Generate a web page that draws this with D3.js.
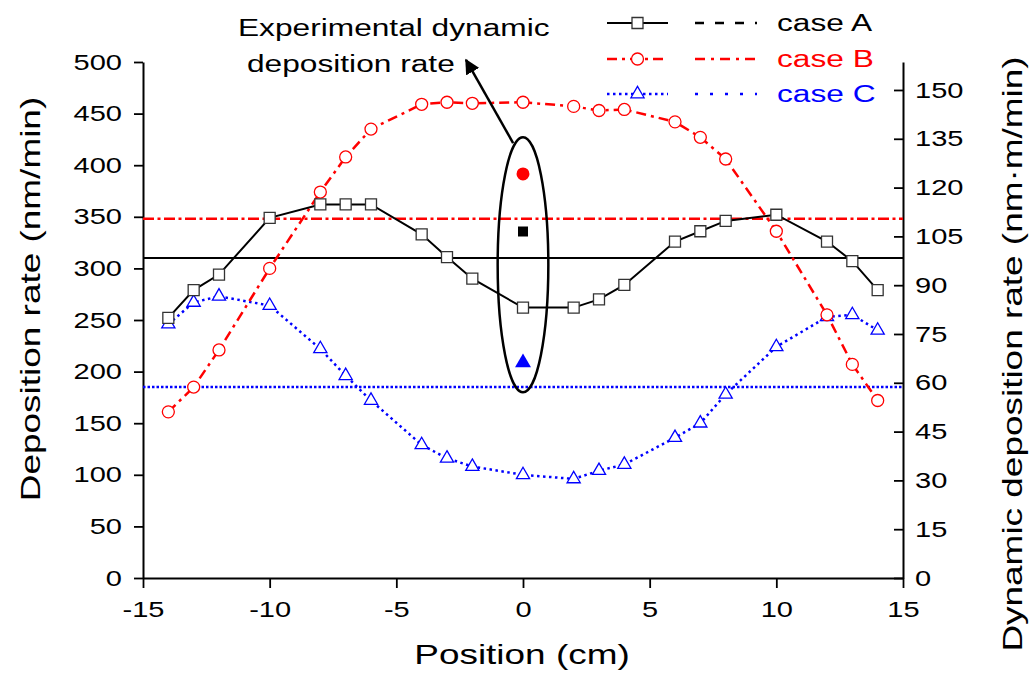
<!DOCTYPE html>
<html><head><meta charset="utf-8">
<script src="https://cdn.jsdelivr.net/npm/d3@7"></script>
<style>
html,body{margin:0;padding:0;background:#fff;}
text{font-family:"Liberation Sans",Arial,sans-serif;}
</style></head>
<body><svg id="c" width="1031" height="677"></svg>
<script>
// ---- data ----
const positions = [-14,-13,-12,-10,-8,-7,-6,-4,-3,-2,0,2,3,4,6,7,8,10,12,13,14];
const caseA = [252,279,294,349,362,362,362,333,311,290,262,262,270,284,326,336,346,352,326,307,279];
const caseB = [161,185,221,300,374,408,435,459,461,460,461,457,453,454,442,427,406,336,255,207,172];
const caseC = [246,267,273,264,222,196,172,129,116,108,100,96,104,110,136,150,178,224,253,255,240];
const averages = {A:310, B:348, C:185};              // nm/min, horizontal lines
const expPosition = 0;
const experimental = {A:106.5, B:124.2, C:66.2};      // nm·m/min (right axis)
const xTicks = [-15,-10,-5,0,5,10,15];
const yLeftTicks = [0,50,100,150,200,250,300,350,400,450,500];
const yRightTicks = [0,15,30,45,60,75,90,105,120,135,150];
const legendLabels = ["case A","case B","case C"];
const annotationLines = ["Experimental dynamic","deposition rate"];
const ellipseRange = {x0:-1, x1:1, y0:180, y1:427};
const arrowFrom = [-0.39, 421.5], arrowTo = [-2.25, 502];

// ---- setup ----
const svg = d3.select("#c");
const K = 1.32; // horizontal glyph stretch of the reference typeface
const x = d3.scaleLinear([-15,15],[143,903]);
const yL = d3.scaleLinear([0,500],[578,62]);
const yR = d3.scaleLinear([0,158.6],[578,62]);
const RED="#ff0000", BLUE="#0000ff";

function stretch(sel){ sel.each(function(){ const t=d3.select(this); const xx=+t.attr("x")||0; t.attr("x",0).attr("transform",`translate(${xx},0) scale(${K},1)`);}); }

// axes
const gL = svg.append("g").attr("transform",`translate(${x(-15)},0)`);
gL.call(d3.axisLeft(yL).tickValues(d3.range(25,500,50)).tickSize(5).tickSizeOuter(0).tickFormat(""));
gL.call(d3.axisLeft(yL).tickValues(yLeftTicks).tickSize(9).tickSizeOuter(0).tickPadding(12).tickFormat(d=>String(d)));
const gR = svg.append("g").attr("transform",`translate(${x(15)},0)`);
gR.call(d3.axisRight(yR).tickValues(d3.range(7.5,158,15)).tickSize(-5).tickSizeOuter(0).tickFormat(""));
gR.call(d3.axisRight(yR).tickValues(yRightTicks).tickSize(-9).tickSizeOuter(0).tickPadding(12).tickFormat(d=>String(d)));
const gB = svg.append("g").attr("transform",`translate(0,${yL(0)})`);
gB.call(d3.axisBottom(x).tickValues(d3.range(-12.5,15,5)).tickSize(6).tickSizeOuter(0).tickFormat(""));
gB.call(d3.axisBottom(x).tickValues(xTicks).tickSize(10).tickSizeOuter(0).tickPadding(13).tickFormat(d=>String(d)));
svg.selectAll(".domain").attr("stroke","#000").attr("stroke-width",2);
svg.selectAll(".tick line").attr("stroke","#000").attr("stroke-width",1.8);
svg.selectAll(".tick text").attr("font-size",22).attr("fill","#000").style("font-family",'"Liberation Sans",Arial,sans-serif');
gL.selectAll(".tick text").call(stretch);
gR.selectAll(".tick text").call(stretch);
gB.selectAll(".tick text").attr("transform",`scale(${K},1)`).each(function(){});

// titles
function addText(t, tx, ty, rot, size, anchor, color, k){
  return svg.append("text").attr("transform",`translate(${tx},${ty}) rotate(${rot}) scale(${k||K},1)`)
    .attr("text-anchor",anchor).attr("font-size",size).attr("fill",color||"#000").text(t);
}
addText("Position (cm)", 522, 664, 0, 28, "middle");
addText("Deposition rate (nm/min)", 40, 299, -90, 28, "middle");
addText("Dynamic deposition rate (nm\u00B7m/min)", 1022, 354, -90, 28, "middle");

// average lines
const styles = {
  A:{color:"#000", avgDash:null, lineDash:null, w:2},
  B:{color:RED, avgDash:"11,3.5,3,3.5", lineDash:"10,5,3,5", w:2.5},
  C:{color:BLUE, avgDash:"2.5,2", lineDash:"2.5,3.5", w:2.5}
};
["A","B","C"].forEach(k=>{
  svg.append("line").attr("x1",x(-15)).attr("x2",x(15)).attr("y1",yL(averages[k])).attr("y2",yL(averages[k]))
    .attr("stroke",styles[k].color).attr("stroke-width",k==="A"?2:2.5).attr("stroke-dasharray",styles[k].avgDash);
});

// data lines
const line = d3.line().x(d=>x(d[0])).y(d=>yL(d[1]));
const series = {A:caseA,B:caseB,C:caseC};
["C","B","A"].forEach(k=>{
  const pts = positions.map((p,i)=>[p,series[k][i]]);
  svg.append("path").datum(pts).attr("d",line).attr("fill","none")
    .attr("stroke",styles[k].color).attr("stroke-width",styles[k].w).attr("stroke-dasharray",styles[k].lineDash);
});
const symSquare = d3.symbol().type(d3.symbolSquare).size(121);
const symCircle = d3.symbol().type(d3.symbolCircle).size(Math.PI*36);
const symTri = d3.symbol().type(d3.symbolTriangle).size(75);
function markers(k, sym, stroke){
  svg.append("g").selectAll("path").data(positions.map((p,i)=>[p,series[k][i]])).join("path")
    .attr("d",sym).attr("transform",d=>`translate(${x(d[0])},${yL(d[1])})`)
    .attr("fill","#fff").attr("stroke",stroke).attr("stroke-width",1.3);
}
markers("C", symTri, BLUE);
markers("B", symCircle, RED);
markers("A", symSquare, "#333");

// experimental points
svg.append("path").attr("d",d3.symbol().type(d3.symbolCircle).size(Math.PI*42)())
  .attr("transform",`translate(${x(expPosition)},${yR(experimental.B)})`).attr("fill",RED);
svg.append("path").attr("d",d3.symbol().type(d3.symbolSquare).size(100)())
  .attr("transform",`translate(${x(expPosition)},${yR(experimental.A)})`).attr("fill","#000");
svg.append("path").attr("d",d3.symbol().type(d3.symbolTriangle).size(110)())
  .attr("transform",`translate(${x(expPosition)},${yR(experimental.C)})`).attr("fill",BLUE);

// ellipse + arrow
const ecx=(x(ellipseRange.x0)+x(ellipseRange.x1))/2, ecy=(yL(ellipseRange.y0)+yL(ellipseRange.y1))/2;
svg.append("ellipse").attr("cx",ecx).attr("cy",ecy)
  .attr("rx",(x(ellipseRange.x1)-x(ellipseRange.x0))/2).attr("ry",(yL(ellipseRange.y0)-yL(ellipseRange.y1))/2)
  .attr("fill","none").attr("stroke","#000").attr("stroke-width",2.5);
svg.append("defs").append("marker").attr("id","ah").attr("viewBox","0 0 10 10").attr("refX",9).attr("refY",5)
  .attr("markerWidth",6).attr("markerHeight",6).attr("markerUnits","strokeWidth").attr("orient","auto")
  .append("path").attr("d","M0,0L10,5L0,10z").attr("fill","#000");
svg.append("line").attr("x1",x(arrowFrom[0])).attr("y1",yL(arrowFrom[1])).attr("x2",x(arrowTo[0])).attr("y2",yL(arrowTo[1]))
  .attr("stroke","#000").attr("stroke-width",2.5).attr("marker-end","url(#ah)");

// annotation text
addText(annotationLines[0], 238, 36, 0, 24, "start");
addText(annotationLines[1], 247, 72, 0, 24, "start");

// legend
const legY=[23,59,94];
const legColors=["#000",RED,BLUE];
const legKeys=["A","B","C"];
const legSyms=[symSquare,symCircle,symTri];
const legRightDash=["9,11","10,6,3,6","3,12"];
legKeys.forEach((k,i)=>{
  const y=legY[i];
  svg.append("line").attr("x1",607).attr("x2",668).attr("y1",y).attr("y2",y)
    .attr("stroke",legColors[i]).attr("stroke-width",styles[k].w).attr("stroke-dasharray",styles[k].lineDash);
  svg.append("path").attr("d",legSyms[i]).attr("transform",`translate(637.5,${y})`)
    .attr("fill","#fff").attr("stroke",i===0?"#333":legColors[i]).attr("stroke-width",1.3);
  svg.append("line").attr("x1",695).attr("x2",757).attr("y1",y).attr("y2",y)
    .attr("stroke",legColors[i]).attr("stroke-width",2.5).attr("stroke-dasharray",legRightDash[i]);
  addText(legendLabels[i], 777, y+8, 0, 24, "start", legColors[i]);
});
</script></body></html>
